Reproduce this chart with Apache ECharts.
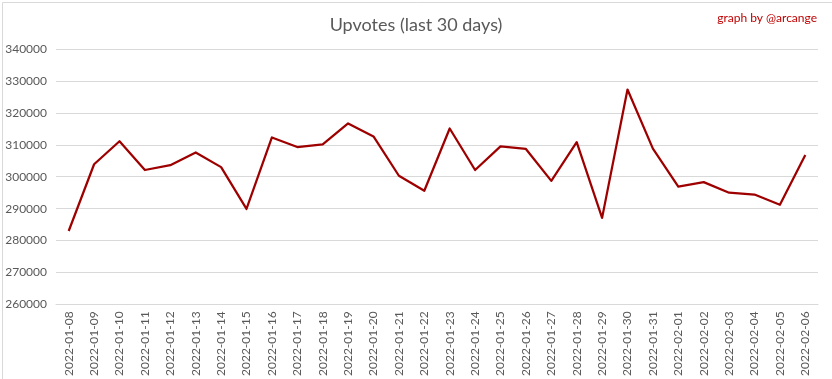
<!DOCTYPE html>
<html>
<head>
<meta charset="utf-8">
<script src="https://cdn.jsdelivr.net/npm/echarts@6/dist/echarts.min.js"></script>
<style>
  html, body { margin: 0; padding: 0; background: #fff; }
  #chart { width: 832px; height: 379px; }
</style>
</head>
<body>
<div id="chart"></div>
<script>
// Daily upvote counts over the last 30 days
const dates = [
  '2022-01-08', '2022-01-09', '2022-01-10', '2022-01-11', '2022-01-12', '2022-01-13',
  '2022-01-14', '2022-01-15', '2022-01-16', '2022-01-17', '2022-01-18', '2022-01-19',
  '2022-01-20', '2022-01-21', '2022-01-22', '2022-01-23', '2022-01-24', '2022-01-25',
  '2022-01-26', '2022-01-27', '2022-01-28', '2022-01-29', '2022-01-30', '2022-01-31',
  '2022-02-01', '2022-02-02', '2022-02-03', '2022-02-04', '2022-02-05', '2022-02-06'
];
const upvotes = [
  283000, 303900, 311100, 302100, 303600, 307600,
  303000, 289900, 312300, 309300, 310100, 316700,
  312600, 300300, 295600, 315100, 302100, 309500,
  308700, 298700, 310800, 287100, 327300, 308800,
  296900, 298300, 295000, 294400, 291200, 306800
];
const yMin = 260000;
const yMax = 340000;
const yStep = 10000;

const chart = echarts.init(document.getElementById('chart'), null, { renderer: 'canvas' });
const font = 'Lato, "Open Sans", sans-serif';

chart.setOption({
  animation: false,
  backgroundColor: '#ffffff',
  title: [
    {
      text: 'Upvotes (last 30 days)',
      left: 'center',
      top: 11,
      textStyle: { fontFamily: font, fontSize: 18, fontWeight: 'normal', color: '#595959' }
    },
    {
      text: 'graph by @arcange',
      right: 10,
      top: 7,
      textStyle: { fontFamily: font, fontSize: 12, fontWeight: 'normal', color: '#c00000' }
    }
  ],
  graphic: [{
    type: 'rect',
    left: 0, top: 0,
    shape: { x: 0.5, y: 0.5, width: 831, height: 378 },
    style: { fill: 'none', stroke: '#d9d9d9', lineWidth: 1 },
    silent: true
  }],
  grid: { left: 56, right: 14, top: 49, bottom: 71, containLabel: false },
  xAxis: {
    type: 'category',
    data: dates,
    boundaryGap: true,
    axisLine: { show: true, lineStyle: { color: '#d9d9d9', width: 1 } },
    axisTick: { show: false },
    axisLabel: {
      rotate: 90,
      interval: 0,
      margin: 7,
      fontFamily: font,
      fontSize: 12,
      color: '#595959'
    },
    splitLine: { show: false }
  },
  yAxis: {
    type: 'value',
    min: yMin,
    max: yMax,
    interval: yStep,
    axisLine: { show: false },
    axisTick: { show: false },
    axisLabel: {
      margin: 9,
      fontFamily: font,
      fontSize: 12,
      color: '#595959',
      formatter: (v) => String(v)
    },
    splitLine: { show: true, lineStyle: { color: '#d9d9d9', width: 1 } }
  },
  series: [{
    type: 'line',
    data: upvotes,
    showSymbol: false,
    symbol: 'none',
    lineStyle: { color: '#9e0000', width: 2.25, join: 'round' },
    itemStyle: { color: '#9e0000' }
  }]
});
</script>
</body>
</html>
